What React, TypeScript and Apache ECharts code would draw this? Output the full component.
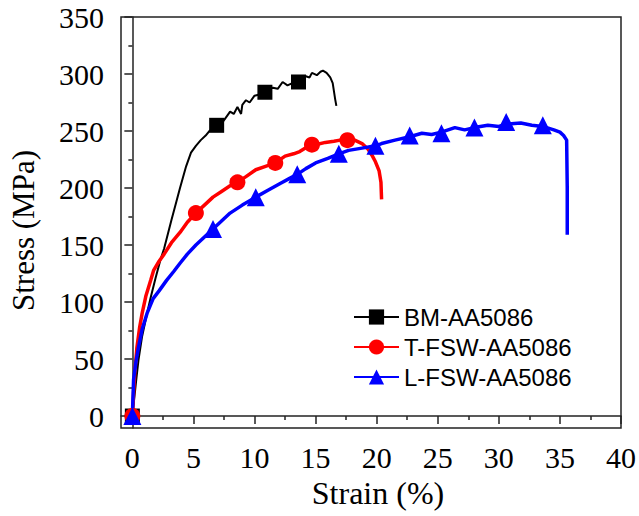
import React, { useEffect, useRef } from "react";
import * as echarts from "echarts";

const seriesNames = ["BM-AA5086", "T-FSW-AA5086", "L-FSW-AA5086"];

const bmCurve: number[][] = [
  [0, 0], [0.15, 15], [0.3, 30], [0.5, 49], [0.8, 70], [1.2, 90], [1.5, 104], [1.9, 121], [2.3, 137],
  [2.6, 147], [3.2, 172], [3.6, 188], [3.9, 200], [4.4, 219], [4.8, 231], [5.2, 237], [5.6, 242],
  [6.0, 246], [6.3, 250], [6.7, 252], [7.0, 255], [7.4, 258], [7.8, 264], [8.0, 267], [8.3, 265],
  [8.6, 271], [8.9, 265], [9.0, 273], [9.3, 277], [9.6, 275], [10.0, 281], [10.4, 282], [10.7, 284],
  [11.1, 286], [11.5, 288], [11.9, 287], [12.3, 293], [12.7, 290], [13.1, 292], [13.5, 293],
  [13.9, 296], [14.2, 298], [14.5, 297], [14.7, 301], [15.1, 299], [15.4, 302], [15.6, 303],
  [15.9, 301], [16.2, 297], [16.4, 292], [16.5, 285], [16.6, 278], [16.7, 272],
];
const bmMarkers: number[][] = [[0, 0], [6.9, 255], [10.85, 284], [13.6, 293]];

const tCurve: number[][] = [
  [0, 0], [0.1, 20], [0.2, 38], [0.37, 60], [0.6, 78], [0.8, 90], [1.1, 105], [1.5, 119], [1.75, 128],
  [2.2, 136], [2.6, 142], [3.2, 152], [3.9, 161], [4.5, 170], [5.2, 178], [5.9, 185], [6.6, 192],
  [7.3, 197], [8.0, 202], [8.6, 205], [9.3, 210], [10.1, 216], [10.9, 219], [11.7, 222], [12.5, 228],
  [13.2, 230], [13.7, 232], [14.3, 236], [15.0, 238], [15.8, 240], [16.5, 241], [17.0, 242],
  [17.6, 243], [18.2, 242], [18.8, 239], [19.3, 234], [19.6, 229], [19.9, 223], [20.2, 215],
  [20.35, 205], [20.4, 190],
];
const tMarkers: number[][] = [[0, 0], [5.2, 178], [8.6, 205], [11.7, 222], [14.7, 238], [17.6, 242]];

const lCurve: number[][] = [
  [0, 0], [0.1, 32], [0.3, 48], [0.5, 60], [0.8, 76], [1.2, 90], [1.7, 103], [2.2, 110], [2.8, 119],
  [3.4, 127], [3.9, 134], [4.5, 142], [5.2, 150], [5.9, 157], [6.6, 164], [7.3, 171], [8.0, 178],
  [9.0, 185], [10.1, 192], [11.1, 198], [12.1, 204], [12.8, 208], [13.5, 212], [14.2, 217],
  [15.0, 222], [16.0, 226], [16.9, 230], [17.7, 233], [18.8, 235], [19.9, 237], [20.4, 239],
  [21.5, 242], [22.7, 245], [23.7, 248], [24.5, 247], [25.3, 249], [26.4, 253], [27.2, 251],
  [28.0, 253], [29.1, 255], [30.0, 254], [30.6, 256], [31.8, 257], [32.7, 255], [33.6, 254],
  [34.5, 251], [35.0, 249], [35.3, 246], [35.55, 242], [35.6, 200], [35.6, 159],
];
const lMarkers: number[][] = [
  [0, 0], [6.6, 164], [10.1, 192], [13.5, 212], [16.9, 230], [19.9, 237], [22.7, 246], [25.3, 248],
  [28.0, 253], [30.6, 258], [33.6, 255],
];

const xMajorTicks = [0, 5, 10, 15, 20, 25, 30, 35, 40];
const xMinorTicks = [2.5, 7.5, 12.5, 17.5, 22.5, 27.5, 32.5, 37.5];
const yMajorTicks = [0, 50, 100, 150, 200, 250, 300, 350];
const yMinorTicks = [25, 75, 125, 175, 225, 275, 325];

const X_MIN = -0.93;
const X_MAX = 40;
const Y_MIN = -10.5;
const Y_MAX = 350;

export default function App() {
  const ref = useRef<HTMLDivElement>(null);
  useEffect(() => {
    if (!ref.current) return;
    const chart = echarts.init(ref.current, null, { renderer: "svg" });
    const axisColor = "#222";
    const serif = "'Liberation Serif', 'Times New Roman', serif";
    const lineSeries = (name: string, data: number[][], color: string, symbol: string, width: number, z: number) => ({
      type: "line",
      name,
      data,
      symbol,
      showSymbol: false,
      color,
      lineStyle: { color, width },
      z,
      silent: true,
    });
    const markerSeries = (data: number[][], color: string, symbol: string, size: number, z: number) => ({
      type: "scatter",
      data,
      symbol,
      symbolSize: size,
      itemStyle: { color, opacity: 1 },
      z,
      silent: true,
    });
    chart.setOption({
      animation: false,
      backgroundColor: "#ffffff",
      grid: {
        left: 117,
        right: 18,
        top: 17,
        bottom: 88,
        show: true,
        borderColor: axisColor,
        borderWidth: 1.5,
        backgroundColor: "transparent",
      },
      legend: {
        orient: "vertical",
        left: 348,
        top: 300,
        itemWidth: 45,
        itemHeight: 19,
        itemGap: 6,
        data: seriesNames,
        textStyle: { fontFamily: "'Liberation Sans', Arial, sans-serif", fontSize: 24, color: "#000" },
      },
      xAxis: [
        {
          type: "value",
          min: X_MIN,
          max: X_MAX,
          name: "Strain (%)",
          nameLocation: "middle",
          nameGap: 47,
          nameTextStyle: { fontFamily: serif, fontSize: 32, color: "#000", padding: [0, 0, 0, 14] },
          axisLine: { show: true, lineStyle: { color: axisColor, width: 1.5 } },
          axisTick: { show: true, customValues: xMajorTicks, length: 8, lineStyle: { color: axisColor, width: 1.5 } },
          axisLabel: { customValues: xMajorTicks, margin: 14, fontFamily: serif, fontSize: 30, color: "#000" },
          splitLine: { show: false },
        },
        {
          type: "value",
          min: X_MIN,
          max: X_MAX,
          position: "bottom",
          axisLine: { show: false },
          axisTick: { show: true, customValues: xMinorTicks, length: 4, lineStyle: { color: axisColor, width: 1.5 } },
          axisLabel: { show: false },
          splitLine: { show: false },
        },
      ],
      yAxis: [
        {
          type: "value",
          min: Y_MIN,
          max: Y_MAX,
          name: "Stress (MPa)",
          nameLocation: "middle",
          nameGap: 82,
          nameTextStyle: { fontFamily: serif, fontSize: 31, color: "#000", padding: [0, 16, 0, 0] },
          axisLine: { show: true, lineStyle: { color: axisColor, width: 1.5 } },
          axisTick: { show: true, customValues: yMajorTicks, length: 8, lineStyle: { color: axisColor, width: 1.5 } },
          axisLabel: { customValues: yMajorTicks, margin: 17, fontFamily: serif, fontSize: 30, color: "#000" },
          splitLine: { show: false },
        },
        {
          type: "value",
          min: Y_MIN,
          max: Y_MAX,
          position: "left",
          axisLine: { show: false },
          axisTick: { show: true, customValues: yMinorTicks, length: 4, lineStyle: { color: axisColor, width: 1.5 } },
          axisLabel: { show: false },
          splitLine: { show: false },
        },
      ],
      series: [
        lineSeries(seriesNames[0], bmCurve, "#000000", "rect", 2, 2),
        lineSeries(seriesNames[1], tCurve, "#ff0000", "circle", 3.5, 3),
        lineSeries(seriesNames[2], lCurve, "#0000ff", "triangle", 3.5, 4),
        markerSeries(bmMarkers, "#000000", "rect", 15, 5),
        markerSeries(tMarkers, "#ff0000", "circle", 16, 6),
        markerSeries(lMarkers, "#0000ff", "triangle", 18, 7),
      ],
    });
    return () => chart.dispose();
  }, []);
  return <div ref={ref} style={{ width: 639, height: 516, position: "absolute", left: 0, top: 0 }} />;
}
